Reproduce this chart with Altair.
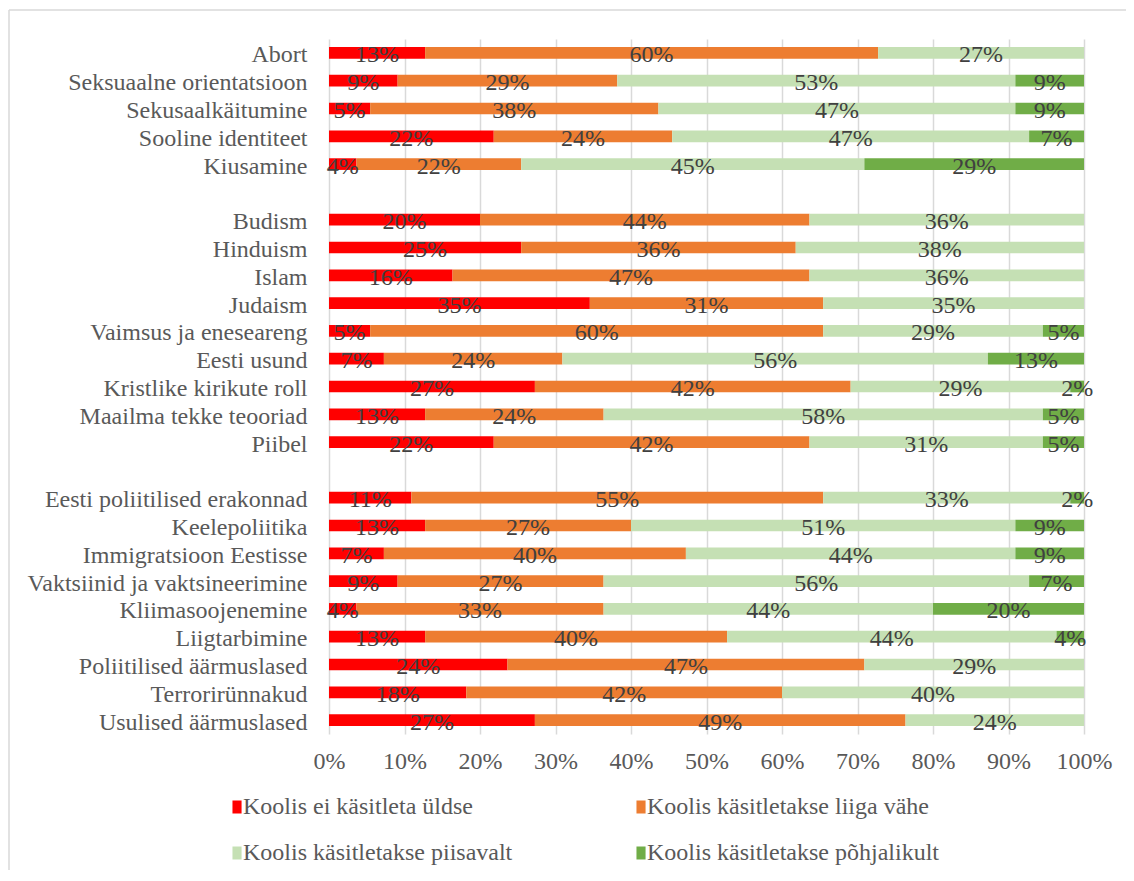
import altair as alt
import pandas as pd

items = ["Abort", "Seksuaalne orientatsioon", "Sekusaalkäitumine", "Sooline identiteet", "Kiusamine", " ",
         "Budism", "Hinduism", "Islam", "Judaism", "Vaimsus ja eneseareng", "Eesti usund",
         "Kristlike kirikute roll\u00a0", "Maailma tekke teooriad\u00a0", "Piibel", "  ",
         "Eesti poliitilised erakonnad", "Keelepoliitika\u00a0", "Immigratsioon Eestisse",
         "Vaktsiinid ja vaktsineerimine", "Kliimasoojenemine", "Liigtarbimine",
         "Poliitilised äärmuslased", "Terrorirünnakud", "Usulised äärmuslased\u00a0"]

series = ["Koolis ei käsitleta üldse", "Koolis käsitletakse liiga vähe",
          "Koolis käsitletakse piisavalt", "Koolis käsitletakse põhjalikult"]
colors = ["#FF0000", "#ED7D31", "#C5E0B4", "#70AD47"]

not_at_all = [12.73, 9.09, 5.45, 21.82, 3.64, None, 20.00, 25.45, 16.36, 34.55, 5.45, 7.27, 27.27, 12.73, 21.82, None,
              10.91, 12.73, 7.27, 9.09, 3.64, 12.73, 23.64, 18.18, 27.27]
too_little = [60.00, 29.09, 38.18, 23.64, 21.82, None, 43.64, 36.36, 47.27, 30.91, 60.00, 23.64, 41.82, 23.64, 41.82, None,
              54.55, 27.27, 40.00, 27.27, 32.73, 40.00, 47.27, 41.82, 49.09]
sufficient = [27.27, 52.73, 47.27, 47.27, 45.45, None, 36.36, 38.18, 36.36, 34.55, 29.09, 56.36, 29.09, 58.18, 30.91, None,
              32.73, 50.91, 43.64, 56.36, 43.64, 43.64, 29.09, 40.00, 23.64]
thorough = [0, 9.09, 9.09, 7.27, 29.09, None, 0, 0, 0, 0, 5.45, 12.73, 1.82, 5.45, 5.45, None,
            1.82, 9.09, 9.09, 7.27, 20.00, 3.64, 0, 0, 0]

rows = []
for s_i, (name, vals) in enumerate(zip(series, [not_at_all, too_little, sufficient, thorough])):
    for item, v in zip(items, vals):
        if v is None or v <= 0:
            continue
        rows.append({"item": item, "series": name, "order": s_i, "value": v})
df = pd.DataFrame(rows)

FONT = "Liberation Serif"
FS = 24

base = alt.Chart(df).transform_stack(
    stack="value", groupby=["item"], as_=["p0", "p1"], offset="normalize",
    sort=[alt.SortField("order", order="ascending")]
).transform_calculate(
    mid="(datum.p0 + datum.p1) / 2",
    label="format(datum.value, '.0f') + '%'"
)

yenc = alt.Y("item:N", scale=alt.Scale(domain=items, paddingInner=0.58, paddingOuter=0.29),
             axis=alt.Axis(title=None, ticks=False, domain=False, labelPadding=22,
                           labelFont=FONT, labelFontSize=FS, labelColor="#595959",
                           labelBaseline="alphabetic", labelOffset=9.5, labelLimit=400))

bars = base.mark_bar().encode(
    x=alt.X("p0:Q", scale=alt.Scale(domain=[0, 1], nice=False),
            axis=alt.Axis(title=None, format=".0%", values=[i / 10 for i in range(11)],
                          grid=True, gridColor="#d9d9d9", gridWidth=1.5, domain=False, ticks=False,
                          labelFlush=False, labelPadding=15,
                          labelFont=FONT, labelFontSize=FS, labelColor="#595959")),
    x2="p1:Q",
    y=yenc,
    color=alt.Color("series:N", scale=alt.Scale(domain=series, range=colors),
                    legend=alt.Legend(title=None, orient="none", legendX=-111, legendY=756,
                                      direction="horizontal", columns=2,
                                      columnPadding=109, rowPadding=22,
                                      symbolType="M0.38,-1H1.78V1H0.38Z", symbolSize=169,
                                      symbolStrokeWidth=0, labelOffset=1,
                                      labelFont=FONT, labelFontSize=FS, labelColor="#595959",
                                      labelLimit=400, padding=0)),
)

labels = base.mark_text(font=FONT, fontSize=FS, color="#404040", baseline="alphabetic", dy=9.5).encode(
    x="mid:Q",
    y=alt.Y("item:N"),
    text="label:N",
)

frame = pd.DataFrame({"a": [0]})
border_left = alt.Chart(frame).mark_rule(color="#d9d9d9", strokeWidth=1.5).encode(
    x=alt.value(-320), y=alt.value(-29), y2=alt.value(1000))
border_top = alt.Chart(frame).mark_rule(color="#d9d9d9", strokeWidth=1.5).encode(
    x=alt.value(-320), x2=alt.value(1000), y=alt.value(-29))

chart = alt.layer(border_left, border_top, bars, labels).properties(
    width=755, height=695,
    autosize=alt.AutoSizeParams(type="none"),
    padding={"left": 321, "top": 31, "right": 42, "bottom": 136},
).configure_view(stroke=None)

chart.save("out.html", embed_options={"renderer": "svg", "actions": False})
